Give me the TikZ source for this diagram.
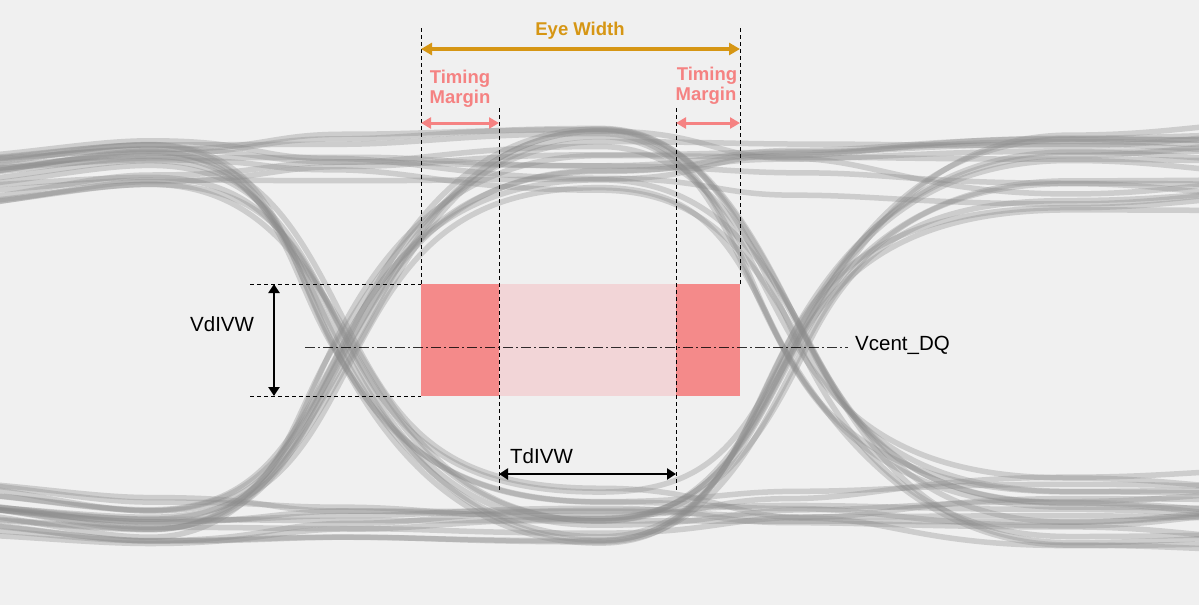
\documentclass[tikz,border=0pt]{standalone}
\usepackage{fontspec}
\setmainfont{Liberation Sans}
\usetikzlibrary{arrows.meta}
\definecolor{bgc}{HTML}{F0F0F0}
\definecolor{tracegray}{RGB}{140,140,140}
\definecolor{goldc}{RGB}{214,150,20}
\definecolor{salmonc}{RGB}{245,130,130}
\definecolor{boxred}{HTML}{F48A8A}
\definecolor{boxpink}{HTML}{F2D5D7}
\tikzset{
  trace/.style={line width=5.5pt, draw=tracegray, draw opacity=0.35},
  guide/.style={draw=black, line width=0.9pt, dash pattern=on 4pt off 3pt},
  centerline/.style={draw=black, draw opacity=0.8, line width=0.9pt, dash pattern=on 10pt off 3pt on 2pt off 3pt},
  blackdim/.style={draw=black, line width=2.6pt, {Triangle[length=9pt,width=11pt]}-{Triangle[length=9pt,width=11pt]}},
  golddim/.style={draw=goldc, line width=3.2pt, {Triangle[length=11pt,width=12pt]}-{Triangle[length=11pt,width=12pt]}},
  margindim/.style={draw=salmonc, line width=3pt, {Triangle[length=10pt,width=11pt]}-{Triangle[length=10pt,width=11pt]}},
  lbl/.style={inner sep=0pt, font=\fontsize{20.5}{24}\selectfont, text=black},
  boldlbl/.style={inner sep=0pt, font=\fontsize{18.5}{21}\selectfont\bfseries},
}
\begin{document}
\begin{tikzpicture}[x=1pt,y=-1pt]
\fill[bgc] (0,0) rectangle (1199,605);
\useasboundingbox (0,0) rectangle (1199,605);
% ---------------- eye traces ----------------
\begin{scope}
\clip (0,0) rectangle (1199,605);
\pgfmathsetseed{4242}
\foreach \i in {0,...,39}{
  \pgfmathtruncatemacro\ba{mod(\i,2)}
  \pgfmathtruncatemacro\bb{mod(floor(\i/2),2)}
  \pgfmathtruncatemacro\bc{mod(floor(\i/4),2)}
  \pgfmathsetmacro\La{\ba*(132+62*rnd)+(1-\ba)*(492+54*rnd)}
  \pgfmathsetmacro\Lae{\La+(2*\ba-1)*20+10*rand}
  \pgfmathsetmacro\Lb{\bb*(128+66*rnd)+(1-\bb)*(488+58*rnd)}
  \pgfmathsetmacro\Lc{\bc*(134+76*rnd)+(1-\bc)*(472+74*rnd)}
  \pgfmathsetmacro\Lce{\Lc+15*rand}
  \pgfmathtruncatemacro\ta{abs(\ba-\bb)}
  \pgfmathtruncatemacro\tb{abs(\bb-\bc)}
  \pgfmathsetmacro\sga{2*\ba-1}
  \pgfmathsetmacro\sgb{2*\bb-1}
  \pgfmathsetmacro\ca{345+15*rand}
  \pgfmathsetmacro\cb{797+15*rand}
  \pgfmathsetmacro\sa{1.85+0.25*rand}
  \pgfmathsetmacro\sb{1.85+0.25*rand}
  \pgfmathsetmacro\Ax{265+15*rand}
  \pgfmathsetmacro\Lab{(\La+\Lb)/2+6*rand}
  \pgfmathsetmacro\Lbc{(\Lb+\Lc)/2+6*rand}
  % boundary 1
  \pgfmathsetmacro\Bax{\ca-(\ta*50+(1-\ta)*80)}
  \pgfmathsetmacro\Bay{\ta*(347-\sga*\sa*50)+(1-\ta)*\Lab}
  \pgfmathsetmacro\Cay{\ta*347+(1-\ta)*\Lab}
  \pgfmathsetmacro\Dax{\ca+(\ta*50+(1-\ta)*80)}
  \pgfmathsetmacro\Day{\ta*(347+\sga*\sa*50)+(1-\ta)*\Lab}
  % boundary 2
  \pgfmathsetmacro\Bbx{\cb-(\tb*48+(1-\tb)*80)}
  \pgfmathsetmacro\Bby{\tb*(347-\sgb*\sb*48)+(1-\tb)*\Lbc}
  \pgfmathsetmacro\Cby{\tb*347+(1-\tb)*\Lbc}
  \pgfmathsetmacro\Dbx{\cb+(\tb*50+(1-\tb)*80)}
  \pgfmathsetmacro\Dby{\tb*(347+\sgb*\sb*50)+(1-\tb)*\Lbc}
  \draw[trace] (-107,\Lae) .. controls (0,\Lae) and (80,\La) .. (150,\La)
     .. controls (\Ax,\La) and (\Bax,\Bay) .. (\ca,\Cay)
     .. controls (\Dax,\Day) and (460,\Lb) .. (600,\Lb)
     .. controls (710,\Lb) and (\Bbx,\Bby) .. (\cb,\Cby)
     .. controls (\Dbx,\Dby) and (920,\Lc) .. (1070,\Lc)
     .. controls (1170,\Lc) and (1200,\Lce) .. (1300,\Lce);
}
\end{scope}
% ---------------- window boxes ----------------
\fill[boxred] (421,284) rectangle (499,396);
\fill[boxpink] (499,284) rectangle (676,396);
\fill[boxred] (676,284) rectangle (740,396);
% ---------------- guide coordinates ----------------
\coordinate (gLt) at (421,28);
\coordinate (gLb) at (421,284);
\coordinate (gRt) at (740,28);
\coordinate (gRb) at (740,284);
\coordinate (tLt) at (499,108);
\coordinate (tLb) at (499,490);
\coordinate (tRt) at (676,108);
\coordinate (tRb) at (676,490);
\coordinate (hTl) at (250,284);
\coordinate (hBl) at (250,396);
\coordinate (hBr) at (421,396);
\coordinate (cL) at (305,347);
\coordinate (cR) at (848,347);
% guides
\draw[guide] (gLt) -- (gLb);
\draw[guide] (gRt) -- (gRb);
\draw[guide] (tLt) -- (tLb);
\draw[guide] (tRt) -- (tRb);
\draw[guide] (hTl) -- (gLb);
\draw[guide] (hBl) -- (hBr);
\draw[centerline] (cL) -- (cR);
% ---------------- dimension arrows ----------------
\coordinate (ewA) at (421,49);
\coordinate (ewB) at (740,49);
\coordinate (tmA) at (421,123);
\coordinate (tmB) at (499,123);
\coordinate (tmC) at (676,123);
\coordinate (tmD) at (740,123);
\coordinate (vdA) at (274,284);
\coordinate (vdB) at (274,396);
\coordinate (tdA) at (499,474);
\coordinate (tdB) at (676,474);
\draw[golddim] (ewA) -- (ewB);
\draw[margindim] (tmA) -- (tmB);
\draw[margindim] (tmC) -- (tmD);
\draw[blackdim] (vdA) -- (vdB);
\draw[blackdim] (tdA) -- (tdB);
% ---------------- labels ----------------
\node[boldlbl, text=goldc, anchor=base] (ew) at (580,35) {Eye Width};
\node[boldlbl, text=salmonc, anchor=base] (tm1a) at (460,83) {Timing};
\node[boldlbl, text=salmonc, anchor=base] (tm1b) at (460,103) {Margin};
\node[boldlbl, text=salmonc, anchor=base] (tm2a) at (707,80) {Timing};
\node[boldlbl, text=salmonc, anchor=base] (tm2b) at (706,100) {Margin};
\node[lbl, anchor=base west] (vd) at (190,331) {VdIVW};
\node[lbl, anchor=base west] (td) at (510,463) {TdIVW};
\node[lbl, anchor=base west] (vc) at (855,350) {Vcent\_DQ};
\end{tikzpicture}
\end{document}
